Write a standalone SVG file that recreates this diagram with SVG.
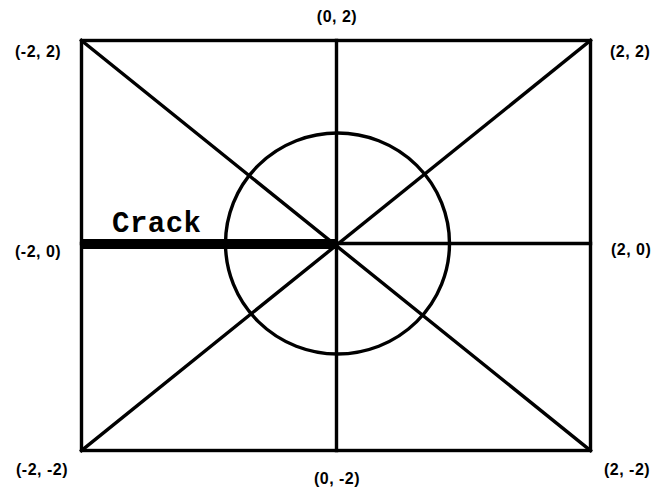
<svg xmlns="http://www.w3.org/2000/svg" width="662" height="488" viewBox="0 0 662 488">
<style>
.ln{stroke:#000;stroke-width:3.4;fill:none;stroke-linecap:square}
.lbl{font-family:"Liberation Sans",Arial,sans-serif;font-weight:bold;font-size:16px;letter-spacing:0.5px;fill:#000}
.crack{font-family:"Liberation Mono","Courier New",monospace;font-weight:bold;font-size:29px;letter-spacing:0.5px;fill:#000}
</style>
<rect width="662" height="488" fill="#fff"/>
<g id="connectors">
<rect class="ln" x="81.5" y="40.5" width="509" height="410"/>
<line class="ln" x1="81.5" y1="40.5" x2="590.5" y2="450.5"/>
<line class="ln" x1="590.5" y1="40.5" x2="81.5" y2="450.5"/>
<line class="ln" x1="336.5" y1="40.5" x2="336.5" y2="450.5"/>
<line class="ln" x1="81.5" y1="243.5" x2="590.5" y2="243.5"/>
<ellipse class="ln" cx="337.5" cy="243.5" rx="112" ry="110.5"/>
<rect x="81" y="239" width="256" height="10" fill="#000"/>
</g>
<g id="crack-label"><text class="crack" x="112" y="232">Crack</text></g>
<g id="n-m2-2"><text class="lbl" x="15" y="57">(-2, 2)</text></g>
<g id="n-0-2"><text class="lbl" x="337" y="22" text-anchor="middle">(0, 2)</text></g>
<g id="n-2-2"><text class="lbl" x="610" y="57">(2, 2)</text></g>
<g id="n-m2-0"><text class="lbl" x="15" y="257">(-2, 0)</text></g>
<g id="n-2-0"><text class="lbl" x="611" y="255">(2, 0)</text></g>
<g id="n-m2-m2"><text class="lbl" x="16" y="475">(-2, -2)</text></g>
<g id="n-0-m2"><text class="lbl" x="337" y="484" text-anchor="middle">(0, -2)</text></g>
<g id="n-2-m2"><text class="lbl" x="604" y="475">(2, -2)</text></g>
</svg>
